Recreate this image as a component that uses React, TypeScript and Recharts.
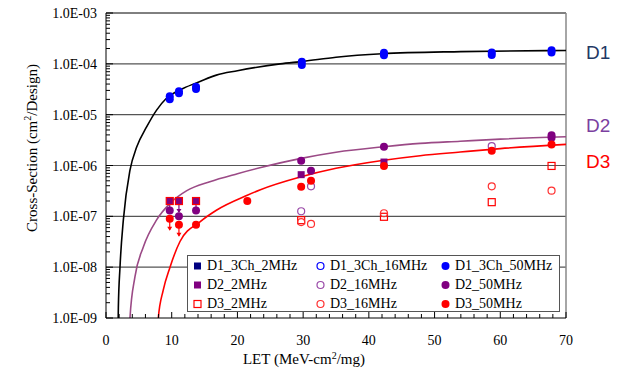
import { ComposedChart, Line, Scatter, XAxis, YAxis, ReferenceLine } from "recharts";

type Pt = { x: number; y: number; arrow?: boolean };

// measured points (LET, cross-section)
const D1_3CH_2MHZ: Pt[] = [];
const D1_3CH_16MHZ: Pt[] = [];
const D1_3CH_50MHZ: Pt[] = [
  { x: 9.7, y: 2.3e-5 }, { x: 9.7, y: 2.0e-5 },
  { x: 11.1, y: 2.9e-5 }, { x: 11.1, y: 2.65e-5 },
  { x: 13.7, y: 3.55e-5 }, { x: 13.7, y: 3.2e-5 },
  { x: 29.8, y: 1.1e-4 }, { x: 29.8, y: 0.95e-4 },
  { x: 42.3, y: 1.65e-4 }, { x: 42.3, y: 1.47e-4 },
  { x: 58.7, y: 1.68e-4 }, { x: 58.7, y: 1.5e-4 },
  { x: 67.8, y: 1.85e-4 }, { x: 67.8, y: 1.68e-4 },
];
const D2_2MHZ: Pt[] = [
  { x: 9.7, y: 2.0e-7, arrow: true }, { x: 11.1, y: 2.0e-7, arrow: true }, { x: 13.7, y: 2.0e-7, arrow: true },
  { x: 29.7, y: 6.6e-7 }, { x: 42.3, y: 1.17e-6 },
];
const D2_16MHZ: Pt[] = [
  { x: 29.7, y: 1.26e-7 }, { x: 31.2, y: 3.9e-7 }, { x: 58.7, y: 2.4e-6 },
];
const D2_50MHZ: Pt[] = [
  { x: 9.7, y: 1.3e-7 }, { x: 11.1, y: 1.0e-7 }, { x: 13.7, y: 1.3e-7 },
  { x: 29.7, y: 1.24e-6 }, { x: 31.2, y: 7.9e-7 }, { x: 42.3, y: 2.33e-6 },
  { x: 67.8, y: 3.95e-6 }, { x: 67.8, y: 3.5e-6 },
];
const D3_2MHZ: Pt[] = [
  { x: 9.7, y: 2.0e-7 }, { x: 11.1, y: 2.0e-7 }, { x: 13.7, y: 2.0e-7 },
  { x: 29.7, y: 8.4e-8 }, { x: 42.3, y: 9.8e-8 }, { x: 58.7, y: 1.9e-7 }, { x: 67.8, y: 9.8e-7 },
];
const D3_16MHZ: Pt[] = [
  { x: 29.7, y: 7.7e-8 }, { x: 31.2, y: 7.1e-8 }, { x: 42.3, y: 1.15e-7 },
  { x: 58.7, y: 3.9e-7 }, { x: 67.8, y: 3.2e-7 },
];
const D3_50MHZ: Pt[] = [
  { x: 9.7, y: 9.0e-8, arrow: true }, { x: 11.1, y: 6.8e-8, arrow: true }, { x: 13.7, y: 6.8e-8 },
  { x: 21.5, y: 2.0e-7 }, { x: 29.7, y: 3.8e-7 }, { x: 31.2, y: 5.0e-7 },
  { x: 42.3, y: 9.8e-7 }, { x: 58.7, y: 1.96e-6 }, { x: 67.8, y: 2.6e-6 },
];

// fitted curves
const D1_CURVE: Pt[] = [
  { x: 1.82, y: 5e-10 }, { x: 1.88, y: 1.6e-9 }, { x: 2.13, y: 1e-8 }, { x: 2.64, y: 8.5e-8 },
  { x: 3.65, y: 8.1e-7 }, { x: 4.67, y: 2.3e-6 }, { x: 6.2, y: 5.8e-6 }, { x: 7.7, y: 1.23e-5 },
  { x: 9.2, y: 2.1e-5 }, { x: 11.8, y: 3.3e-5 }, { x: 14.3, y: 4.5e-5 }, { x: 16.8, y: 6.0e-5 },
  { x: 20, y: 7.3e-5 }, { x: 26.5, y: 1.0e-4 }, { x: 30, y: 1.12e-4 }, { x: 35, y: 1.35e-4 },
  { x: 42, y: 1.58e-4 }, { x: 54, y: 1.74e-4 }, { x: 70, y: 1.83e-4 },
];
const D2_CURVE: Pt[] = [
  { x: 3.6, y: 5e-10 }, { x: 3.65, y: 1e-9 }, { x: 4.41, y: 6.5e-9 }, { x: 5.68, y: 2.5e-8 },
  { x: 7.7, y: 8.5e-8 }, { x: 9.74, y: 1.8e-7 }, { x: 12.3, y: 3.2e-7 }, { x: 15.8, y: 4.8e-7 },
  { x: 20, y: 6.9e-7 }, { x: 23.4, y: 9.0e-7 }, { x: 29.7, y: 1.38e-6 }, { x: 35, y: 1.82e-6 },
  { x: 42.3, y: 2.34e-6 }, { x: 47.8, y: 2.72e-6 }, { x: 53.9, y: 3.0e-6 }, { x: 60, y: 3.3e-6 },
  { x: 70, y: 3.67e-6 },
];
const D3_CURVE: Pt[] = [
  { x: 7.9, y: 5e-10 }, { x: 7.96, y: 1e-9 }, { x: 8.7, y: 3.5e-9 }, { x: 9.74, y: 1e-8 },
  { x: 11.26, y: 3.2e-8 }, { x: 14.3, y: 7.8e-8 }, { x: 16.8, y: 1.32e-7 }, { x: 21.5, y: 2.6e-7 },
  { x: 23.4, y: 3.3e-7 }, { x: 29.7, y: 6.0e-7 }, { x: 35, y: 8.8e-7 }, { x: 42.3, y: 1.27e-6 },
  { x: 47.8, y: 1.56e-6 }, { x: 53.9, y: 1.84e-6 }, { x: 60, y: 2.15e-6 }, { x: 70, y: 2.6e-6 },
];

const X_MAJOR = [0, 10, 20, 30, 40, 50, 60, 70];
const X_TICKS = [0, 2, 4, 6, 8, 10, 12, 14, 16, 18, 20, 22, 24, 26, 28, 30, 32, 34, 36, 38, 40,
  42, 44, 46, 48, 50, 52, 54, 56, 58, 60, 62, 64, 66, 68, 70];
const Y_MAJOR = [1e-9, 1e-8, 1e-7, 1e-6, 1e-5, 1e-4, 1e-3];
const Y_LABELS = ["1.0E-09", "1.0E-08", "1.0E-07", "1.0E-06", "1.0E-05", "1.0E-04", "1.0E-03"];
const Y_TICKS: number[] = [];
Y_MAJOR.forEach((d, i) => {
  Y_TICKS.push(d);
  if (i < Y_MAJOR.length - 1) for (let m = 2; m <= 9; m++) Y_TICKS.push(d * m);
});

const SERIF = "'Liberation Serif', 'Times New Roman', serif";

type Kind = "square" | "osquare" | "circle" | "ocircle";

const SERIES: { name: string; data: Pt[]; kind: Kind; color: string }[] = [
  { name: "D1_3Ch_2MHz", data: D1_3CH_2MHZ, kind: "square", color: "#000080" },
  { name: "D1_3Ch_16MHz", data: D1_3CH_16MHZ, kind: "ocircle", color: "#0000ff" },
  { name: "D1_3Ch_50MHz", data: D1_3CH_50MHZ, kind: "circle", color: "#0000ff" },
  { name: "D2_2MHz", data: D2_2MHZ, kind: "square", color: "#800080" },
  { name: "D2_16MHz", data: D2_16MHZ, kind: "ocircle", color: "#9a4aa8" },
  { name: "D2_50MHz", data: D2_50MHZ, kind: "circle", color: "#800080" },
  { name: "D3_2MHz", data: D3_2MHZ, kind: "osquare", color: "#ff0000" },
  { name: "D3_16MHz", data: D3_16MHZ, kind: "ocircle", color: "#ff3030" },
  { name: "D3_50MHz", data: D3_50MHZ, kind: "circle", color: "#ff0000" },
];

function Marker({ kind, color, cx, cy }: { kind: Kind; color: string; cx: number; cy: number }) {
  if (kind === "square")
    return <rect x={cx - 3.5} y={cy - 3.5} width={7} height={7} fill={color} />;
  if (kind === "osquare")
    return <rect x={cx - 3.5} y={cy - 3.5} width={7} height={7} fill="none" stroke={color} strokeWidth={1.2} />;
  if (kind === "circle") return <circle cx={cx} cy={cy} r={4} fill={color} />;
  return <circle cx={cx} cy={cy} r={3.5} fill="none" stroke={color} strokeWidth={1.2} />;
}

function makeShape(kind: Kind, color: string) {
  return (props: any) => {
    const { cx, cy, payload } = props;
    if (cx == null || cy == null) return <g />;
    return (
      <g>
        {payload?.arrow && (
          <g>
            <line x1={cx} x2={cx} y1={cy} y2={cy + 11} stroke={color} strokeWidth={1.2} />
            <path d={`M${cx - 2.5},${cy + 8} L${cx + 2.5},${cy + 8} L${cx},${cy + 12} Z`} fill={color} />
          </g>
        )}
        <Marker kind={kind} color={color} cx={cx} cy={cy} />
      </g>
    );
  };
}

function YTick(props: any) {
  const { x, y, payload } = props;
  const lg = Math.log10(payload.value);
  const idx = Y_MAJOR.findIndex((v) => Math.abs(Math.log10(v) - lg) < 1e-6);
  if (idx < 0) return <line x1={x} x2={x + 4} y1={y} y2={y} stroke="#000" />;
  return (
    <g>
      <line x1={x} x2={x + 7} y1={y} y2={y} stroke="#000" />
      <text x={x - 9} y={y + 5} textAnchor="end" fontSize={14} fontFamily={SERIF} fill="#000">
        {Y_LABELS[idx]}
      </text>
    </g>
  );
}

function XTick(props: any) {
  const { x, y, payload } = props;
  const major = X_MAJOR.includes(payload.value);
  return (
    <g>
      <line x1={x} x2={x} y1={y} y2={y - (major ? 6 : 4)} stroke="#000" />
      {major && (
        <text x={x} y={y + 27} textAnchor="middle" fontSize={14} fontFamily={SERIF} fill="#000">
          {payload.value}
        </text>
      )}
    </g>
  );
}

function Legend9() {
  return (
    <div
      style={{
        position: "absolute", left: 187, top: 255, width: 371, height: 55,
        border: "1px solid #555", background: "#fff",
        display: "grid", gridTemplateColumns: "123px 125px 123px", gridAutoRows: "19px",
        fontFamily: SERIF, fontSize: 14, color: "#000",
      }}
    >
      {SERIES.map((s) => (
        <div key={s.name} style={{ display: "flex", alignItems: "center", whiteSpace: "nowrap" }}>
          <svg width={19} height={19} style={{ flex: "none" }}>
            <Marker kind={s.kind} color={s.color} cx={9.5} cy={10} />
          </svg>
          <span>{s.name}</span>
        </div>
      ))}
    </div>
  );
}

const sideLabel = (top: number, color: string): React.CSSProperties => ({
  position: "absolute", left: 586, top, color, fontFamily: "'Liberation Sans', Arial, sans-serif",
  fontSize: 19, lineHeight: "20px",
});

export default function App() {
  return (
    <div style={{ position: "absolute", left: 0, top: 0, width: 618, height: 370, background: "#fff" }}>
      <ComposedChart width={618} height={370} margin={{ top: 13, right: 52, bottom: 0, left: 0 }}>
        <XAxis
          type="number" dataKey="x" domain={[0, 70]} ticks={X_TICKS} interval={0}
          height={52} tickSize={0} tickMargin={0} tick={<XTick />} stroke="#000"
          label={{
            content: (p: any) => (
              <text x={p.viewBox.x + 198} y={p.viewBox.y + 46} textAnchor="middle" fontSize={15} fontFamily={SERIF} fill="#000">
                LET (MeV-cm<tspan dy={-5} fontSize={10}>2</tspan><tspan dy={5}>/mg)</tspan>
              </text>
            ),
          }}
        />
        <YAxis
          type="number" dataKey="y" scale="log" domain={[1e-9, 1e-3]} allowDataOverflow
          ticks={Y_TICKS} interval={0} width={106} tickSize={0} tickMargin={0} tick={<YTick />} stroke="#000"
          label={{
            content: (p: any) => {
              const cx = p.viewBox.x + 32;
              const cy = p.viewBox.y + 135;
              return (
                <text x={cx} y={cy} transform={`rotate(-90 ${cx} ${cy})`} textAnchor="middle" dominantBaseline="central"
                  fontSize={15} fontFamily={SERIF} fill="#000">
                  Cross-Section (cm<tspan dy={-5} fontSize={10}>2</tspan><tspan dy={5}>/Design)</tspan>
                </text>
              );
            },
          }}
        />
        {Y_MAJOR.slice(1, -1).map((v) => (
          <ReferenceLine key={v} y={v} stroke="#555" strokeWidth={1.2} />
        ))}
        <ReferenceLine y={1e-3} stroke="#000" />
        <ReferenceLine x={70} stroke="#888" strokeWidth={1.5} />
        <Line data={D1_CURVE} dataKey="y" type="monotone" stroke="#000" strokeWidth={1.6} dot={false} activeDot={false} legendType="none" isAnimationActive={false} />
        <Line data={D2_CURVE} dataKey="y" type="monotone" stroke="#9b4a86" strokeWidth={1.6} dot={false} activeDot={false} legendType="none" isAnimationActive={false} />
        <Line data={D3_CURVE} dataKey="y" type="monotone" stroke="#ff0000" strokeWidth={1.6} dot={false} activeDot={false} legendType="none" isAnimationActive={false} />
        {SERIES.map((s) => (
          <Scatter key={s.name} name={s.name} data={s.data} dataKey="y" shape={makeShape(s.kind, s.color)} isAnimationActive={false} />
        ))}
      </ComposedChart>
      <Legend9 />
      <div style={sideLabel(43, "#1f3864")}>D1</div>
      <div style={sideLabel(116, "#7b3fa0")}>D2</div>
      <div style={sideLabel(152, "#ff0000")}>D3</div>
    </div>
  );
}
